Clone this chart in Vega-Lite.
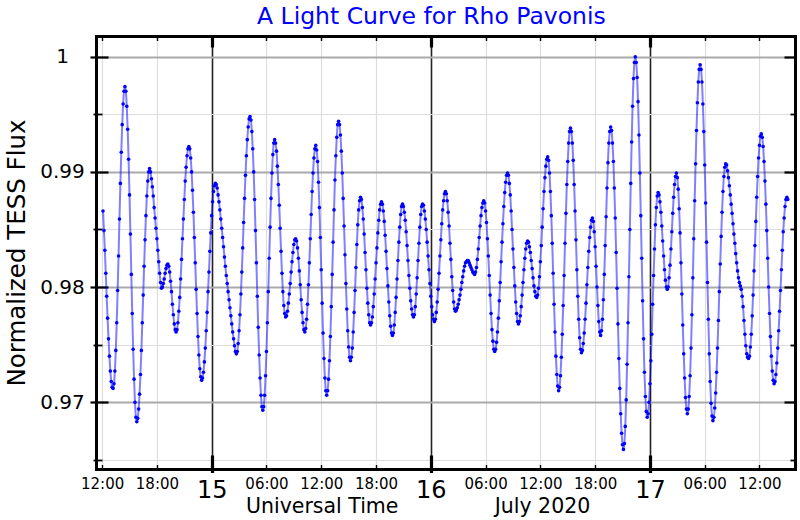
{
"$schema":"https://vega.github.io/schema/vega-lite/v6.json",
"width":699,"height":433,
"autosize":{"type":"none"},
"padding":{"left":96,"top":36,"right":5,"bottom":51},
"background":"white",
"config":{"view":{"stroke":null},"axis":{"labelFont":"DejaVu Sans","titleFont":"DejaVu Sans","labelColor":"#000","titleColor":"#000","tickColor":"#000","domainColor":"#000","titleFontWeight":"normal","domainCap":"square"}},
"title":{"text":"A Light Curve for Rho Pavonis","color":"#0000ff","font":"DejaVu Sans","fontSize":23.5,"fontWeight":"normal","anchor":"start","dx":161,"dy":23,"frame":"group","baseline":"alphabetic","offset":10},
"data":{"values":[
{"t":12.1,"f":0.9866},{"t":12.2,"f":0.9849},{"t":12.3,"f":0.9832},{"t":12.4,"f":0.9812},{"t":12.5,"f":0.9792},{"t":12.6,"f":0.9773},{"t":12.7,"f":0.9755},{"t":12.8,"f":0.9740},{"t":12.9,"f":0.9727},{"t":13.0,"f":0.9718},
{"t":13.1,"f":0.9713},{"t":13.2,"f":0.9712},{"t":13.3,"f":0.9716},{"t":13.4,"f":0.9727},{"t":13.5,"f":0.9745},{"t":13.6,"f":0.9769},{"t":13.7,"f":0.9797},{"t":13.8,"f":0.9827},{"t":13.9,"f":0.9859},{"t":14.0,"f":0.9890},
{"t":14.1,"f":0.9917},{"t":14.2,"f":0.9941},{"t":14.3,"f":0.9959},{"t":14.4,"f":0.9970},{"t":14.5,"f":0.9974},{"t":14.6,"f":0.9970},{"t":14.7,"f":0.9957},{"t":14.8,"f":0.9937},{"t":14.9,"f":0.9911},{"t":15.0,"f":0.9880},
{"t":15.1,"f":0.9846},{"t":15.2,"f":0.9811},{"t":15.3,"f":0.9777},{"t":15.4,"f":0.9746},{"t":15.5,"f":0.9720},{"t":15.6,"f":0.9700},{"t":15.7,"f":0.9687},{"t":15.8,"f":0.9683},{"t":15.9,"f":0.9686},{"t":16.0,"f":0.9694},
{"t":16.1,"f":0.9707},{"t":16.2,"f":0.9724},{"t":16.3,"f":0.9745},{"t":16.4,"f":0.9769},{"t":16.5,"f":0.9793},{"t":16.6,"f":0.9818},{"t":16.7,"f":0.9841},{"t":16.8,"f":0.9862},{"t":16.9,"f":0.9879},{"t":17.0,"f":0.9892},
{"t":17.1,"f":0.9900},{"t":17.2,"f":0.9903},{"t":17.3,"f":0.9900},{"t":17.4,"f":0.9894},{"t":17.5,"f":0.9887},{"t":17.6,"f":0.9879},{"t":17.7,"f":0.9869},{"t":17.8,"f":0.9860},{"t":17.9,"f":0.9851},{"t":18.0,"f":0.9842},
{"t":18.1,"f":0.9832},{"t":18.2,"f":0.9822},{"t":18.3,"f":0.9812},{"t":18.4,"f":0.9804},{"t":18.5,"f":0.9799},{"t":18.6,"f":0.9800},{"t":18.7,"f":0.9803},{"t":18.8,"f":0.9807},{"t":18.9,"f":0.9812},{"t":19.0,"f":0.9816},
{"t":19.1,"f":0.9819},{"t":19.2,"f":0.9820},{"t":19.3,"f":0.9818},{"t":19.4,"f":0.9813},{"t":19.5,"f":0.9805},{"t":19.6,"f":0.9796},{"t":19.7,"f":0.9785},{"t":19.8,"f":0.9776},{"t":19.9,"f":0.9768},{"t":20.0,"f":0.9763},
{"t":20.1,"f":0.9761},{"t":20.2,"f":0.9763},{"t":20.3,"f":0.9769},{"t":20.4,"f":0.9779},{"t":20.5,"f":0.9791},{"t":20.6,"f":0.9807},{"t":20.7,"f":0.9824},{"t":20.8,"f":0.9842},{"t":20.9,"f":0.9859},{"t":21.0,"f":0.9876},
{"t":21.1,"f":0.9892},{"t":21.2,"f":0.9904},{"t":21.3,"f":0.9914},{"t":21.4,"f":0.9920},{"t":21.5,"f":0.9922},{"t":21.6,"f":0.9920},{"t":21.7,"f":0.9912},{"t":21.8,"f":0.9900},{"t":21.9,"f":0.9884},{"t":22.0,"f":0.9865},
{"t":22.1,"f":0.9843},{"t":22.2,"f":0.9821},{"t":22.3,"f":0.9798},{"t":22.4,"f":0.9777},{"t":22.5,"f":0.9757},{"t":22.6,"f":0.9741},{"t":22.7,"f":0.9729},{"t":22.8,"f":0.9722},{"t":22.9,"f":0.9719},{"t":23.0,"f":0.9721},
{"t":23.1,"f":0.9726},{"t":23.2,"f":0.9735},{"t":23.3,"f":0.9747},{"t":23.4,"f":0.9762},{"t":23.5,"f":0.9778},{"t":23.6,"f":0.9796},{"t":23.7,"f":0.9813},{"t":23.8,"f":0.9831},{"t":23.9,"f":0.9847},{"t":24.0,"f":0.9862},
{"t":24.1,"f":0.9874},{"t":24.2,"f":0.9883},{"t":24.3,"f":0.9888},{"t":24.4,"f":0.9890},{"t":24.5,"f":0.9889},{"t":24.6,"f":0.9886},{"t":24.7,"f":0.9880},{"t":24.8,"f":0.9874},{"t":24.9,"f":0.9867},{"t":25.0,"f":0.9859},
{"t":25.1,"f":0.9851},{"t":25.2,"f":0.9843},{"t":25.3,"f":0.9835},{"t":25.4,"f":0.9826},{"t":25.5,"f":0.9818},{"t":25.6,"f":0.9810},{"t":25.7,"f":0.9803},{"t":25.8,"f":0.9796},{"t":25.9,"f":0.9789},{"t":26.0,"f":0.9782},
{"t":26.1,"f":0.9775},{"t":26.2,"f":0.9768},{"t":26.3,"f":0.9761},{"t":26.4,"f":0.9755},{"t":26.5,"f":0.9749},{"t":26.6,"f":0.9744},{"t":26.7,"f":0.9742},{"t":26.8,"f":0.9744},{"t":26.9,"f":0.9751},{"t":27.0,"f":0.9762},
{"t":27.1,"f":0.9776},{"t":27.2,"f":0.9794},{"t":27.3,"f":0.9813},{"t":27.4,"f":0.9834},{"t":27.5,"f":0.9856},{"t":27.6,"f":0.9877},{"t":27.7,"f":0.9897},{"t":27.8,"f":0.9914},{"t":27.9,"f":0.9928},{"t":28.0,"f":0.9939},
{"t":28.1,"f":0.9946},{"t":28.2,"f":0.9948},{"t":28.3,"f":0.9945},{"t":28.4,"f":0.9935},{"t":28.5,"f":0.9920},{"t":28.6,"f":0.9900},{"t":28.7,"f":0.9876},{"t":28.8,"f":0.9849},{"t":28.9,"f":0.9821},{"t":29.0,"f":0.9792},
{"t":29.1,"f":0.9765},{"t":29.2,"f":0.9741},{"t":29.3,"f":0.9721},{"t":29.4,"f":0.9706},{"t":29.5,"f":0.9696},{"t":29.6,"f":0.9693},{"t":29.7,"f":0.9696},{"t":29.8,"f":0.9706},{"t":29.9,"f":0.9723},{"t":30.0,"f":0.9744},
{"t":30.1,"f":0.9769},{"t":30.2,"f":0.9796},{"t":30.3,"f":0.9825},{"t":30.4,"f":0.9852},{"t":30.5,"f":0.9877},{"t":30.6,"f":0.9899},{"t":30.7,"f":0.9915},{"t":30.8,"f":0.9925},{"t":30.9,"f":0.9928},{"t":31.0,"f":0.9925},
{"t":31.1,"f":0.9918},{"t":31.2,"f":0.9905},{"t":31.3,"f":0.9889},{"t":31.4,"f":0.9871},{"t":31.5,"f":0.9851},{"t":31.6,"f":0.9831},{"t":31.7,"f":0.9812},{"t":31.8,"f":0.9796},{"t":31.9,"f":0.9784},{"t":32.0,"f":0.9777},
{"t":32.1,"f":0.9774},{"t":32.2,"f":0.9775},{"t":32.3,"f":0.9779},{"t":32.4,"f":0.9786},{"t":32.5,"f":0.9794},{"t":32.6,"f":0.9803},{"t":32.7,"f":0.9813},{"t":32.8,"f":0.9822},{"t":32.9,"f":0.9830},{"t":33.0,"f":0.9837},
{"t":33.1,"f":0.9841},{"t":33.2,"f":0.9842},{"t":33.3,"f":0.9840},{"t":33.4,"f":0.9834},{"t":33.5,"f":0.9825},{"t":33.6,"f":0.9814},{"t":33.7,"f":0.9802},{"t":33.8,"f":0.9789},{"t":33.9,"f":0.9778},{"t":34.0,"f":0.9769},
{"t":34.1,"f":0.9763},{"t":34.2,"f":0.9761},{"t":34.3,"f":0.9764},{"t":34.4,"f":0.9772},{"t":34.5,"f":0.9785},{"t":34.6,"f":0.9802},{"t":34.7,"f":0.9821},{"t":34.8,"f":0.9842},{"t":34.9,"f":0.9863},{"t":35.0,"f":0.9883},
{"t":35.1,"f":0.9899},{"t":35.2,"f":0.9912},{"t":35.3,"f":0.9920},{"t":35.4,"f":0.9923},{"t":35.5,"f":0.9919},{"t":35.6,"f":0.9909},{"t":35.7,"f":0.9891},{"t":35.8,"f":0.9869},{"t":35.9,"f":0.9843},{"t":36.0,"f":0.9815},
{"t":36.1,"f":0.9786},{"t":36.2,"f":0.9760},{"t":36.3,"f":0.9738},{"t":36.4,"f":0.9721},{"t":36.5,"f":0.9710},{"t":36.6,"f":0.9706},{"t":36.7,"f":0.9710},{"t":36.8,"f":0.9720},{"t":36.9,"f":0.9736},{"t":37.0,"f":0.9757},
{"t":37.1,"f":0.9783},{"t":37.2,"f":0.9811},{"t":37.3,"f":0.9839},{"t":37.4,"f":0.9867},{"t":37.5,"f":0.9893},{"t":37.6,"f":0.9914},{"t":37.7,"f":0.9930},{"t":37.8,"f":0.9941},{"t":37.9,"f":0.9944},{"t":38.0,"f":0.9941},
{"t":38.1,"f":0.9932},{"t":38.2,"f":0.9918},{"t":38.3,"f":0.9899},{"t":38.4,"f":0.9877},{"t":38.5,"f":0.9853},{"t":38.6,"f":0.9828},{"t":38.7,"f":0.9803},{"t":38.8,"f":0.9781},{"t":38.9,"f":0.9762},{"t":39.0,"f":0.9748},
{"t":39.1,"f":0.9739},{"t":39.2,"f":0.9736},{"t":39.3,"f":0.9739},{"t":39.4,"f":0.9747},{"t":39.5,"f":0.9761},{"t":39.6,"f":0.9778},{"t":39.7,"f":0.9797},{"t":39.8,"f":0.9817},{"t":39.9,"f":0.9837},{"t":40.0,"f":0.9854},
{"t":40.1,"f":0.9867},{"t":40.2,"f":0.9875},{"t":40.3,"f":0.9878},{"t":40.4,"f":0.9876},{"t":40.5,"f":0.9869},{"t":40.6,"f":0.9859},{"t":40.7,"f":0.9846},{"t":40.8,"f":0.9830},{"t":40.9,"f":0.9815},{"t":41.0,"f":0.9799},
{"t":41.1,"f":0.9786},{"t":41.2,"f":0.9776},{"t":41.3,"f":0.9769},{"t":41.4,"f":0.9767},{"t":41.5,"f":0.9769},{"t":41.6,"f":0.9774},{"t":41.7,"f":0.9783},{"t":41.8,"f":0.9794},{"t":41.9,"f":0.9807},{"t":42.0,"f":0.9821},
{"t":42.1,"f":0.9834},{"t":42.2,"f":0.9847},{"t":42.3,"f":0.9858},{"t":42.4,"f":0.9867},{"t":42.5,"f":0.9872},{"t":42.6,"f":0.9874},{"t":42.7,"f":0.9872},{"t":42.8,"f":0.9866},{"t":42.9,"f":0.9857},{"t":43.0,"f":0.9845},
{"t":43.1,"f":0.9831},{"t":43.2,"f":0.9816},{"t":43.3,"f":0.9801},{"t":43.4,"f":0.9787},{"t":43.5,"f":0.9775},{"t":43.6,"f":0.9766},{"t":43.7,"f":0.9760},{"t":43.8,"f":0.9758},{"t":43.9,"f":0.9760},{"t":44.0,"f":0.9767},
{"t":44.1,"f":0.9778},{"t":44.2,"f":0.9791},{"t":44.3,"f":0.9807},{"t":44.4,"f":0.9823},{"t":44.5,"f":0.9839},{"t":44.6,"f":0.9852},{"t":44.7,"f":0.9863},{"t":44.8,"f":0.9870},{"t":44.9,"f":0.9872},{"t":45.0,"f":0.9870},
{"t":45.1,"f":0.9865},{"t":45.2,"f":0.9858},{"t":45.3,"f":0.9848},{"t":45.4,"f":0.9836},{"t":45.5,"f":0.9823},{"t":45.6,"f":0.9810},{"t":45.7,"f":0.9799},{"t":45.8,"f":0.9788},{"t":45.9,"f":0.9781},{"t":46.0,"f":0.9776},
{"t":46.1,"f":0.9774},{"t":46.2,"f":0.9776},{"t":46.3,"f":0.9783},{"t":46.4,"f":0.9794},{"t":46.5,"f":0.9808},{"t":46.6,"f":0.9823},{"t":46.7,"f":0.9838},{"t":46.8,"f":0.9852},{"t":46.9,"f":0.9863},{"t":47.0,"f":0.9870},
{"t":47.1,"f":0.9872},{"t":47.2,"f":0.9871},{"t":47.3,"f":0.9866},{"t":47.4,"f":0.9859},{"t":47.5,"f":0.9850},{"t":47.6,"f":0.9839},{"t":47.7,"f":0.9827},{"t":47.8,"f":0.9815},{"t":47.9,"f":0.9803},{"t":48.0,"f":0.9792},
{"t":48.1,"f":0.9783},{"t":48.2,"f":0.9776},{"t":48.3,"f":0.9772},{"t":48.4,"f":0.9770},{"t":48.5,"f":0.9772},{"t":48.6,"f":0.9778},{"t":48.7,"f":0.9787},{"t":48.8,"f":0.9798},{"t":48.9,"f":0.9812},{"t":49.0,"f":0.9827},
{"t":49.1,"f":0.9841},{"t":49.2,"f":0.9855},{"t":49.3,"f":0.9867},{"t":49.4,"f":0.9875},{"t":49.5,"f":0.9881},{"t":49.6,"f":0.9883},{"t":49.7,"f":0.9881},{"t":49.8,"f":0.9875},{"t":49.9,"f":0.9865},{"t":50.0,"f":0.9853},
{"t":50.1,"f":0.9838},{"t":50.2,"f":0.9824},{"t":50.3,"f":0.9809},{"t":50.4,"f":0.9797},{"t":50.5,"f":0.9787},{"t":50.6,"f":0.9781},{"t":50.7,"f":0.9779},{"t":50.8,"f":0.9780},{"t":50.9,"f":0.9782},{"t":51.0,"f":0.9785},
{"t":51.1,"f":0.9789},{"t":51.2,"f":0.9793},{"t":51.3,"f":0.9798},{"t":51.4,"f":0.9804},{"t":51.5,"f":0.9809},{"t":51.6,"f":0.9814},{"t":51.7,"f":0.9818},{"t":51.8,"f":0.9821},{"t":51.9,"f":0.9822},{"t":52.0,"f":0.9823},
{"t":52.1,"f":0.9823},{"t":52.2,"f":0.9821},{"t":52.3,"f":0.9819},{"t":52.4,"f":0.9817},{"t":52.5,"f":0.9815},{"t":52.6,"f":0.9813},{"t":52.7,"f":0.9812},{"t":52.8,"f":0.9811},{"t":52.9,"f":0.9813},{"t":53.0,"f":0.9817},
{"t":53.1,"f":0.9824},{"t":53.2,"f":0.9833},{"t":53.3,"f":0.9843},{"t":53.4,"f":0.9853},{"t":53.5,"f":0.9862},{"t":53.6,"f":0.9869},{"t":53.7,"f":0.9873},{"t":53.8,"f":0.9875},{"t":53.9,"f":0.9873},{"t":54.0,"f":0.9866},
{"t":54.1,"f":0.9856},{"t":54.2,"f":0.9842},{"t":54.3,"f":0.9827},{"t":54.4,"f":0.9810},{"t":54.5,"f":0.9793},{"t":54.6,"f":0.9777},{"t":54.7,"f":0.9763},{"t":54.8,"f":0.9753},{"t":54.9,"f":0.9746},{"t":55.0,"f":0.9744},
{"t":55.1,"f":0.9746},{"t":55.2,"f":0.9752},{"t":55.3,"f":0.9761},{"t":55.4,"f":0.9773},{"t":55.5,"f":0.9788},{"t":55.6,"f":0.9804},{"t":55.7,"f":0.9822},{"t":55.8,"f":0.9839},{"t":55.9,"f":0.9855},{"t":56.0,"f":0.9870},
{"t":56.1,"f":0.9882},{"t":56.2,"f":0.9891},{"t":56.3,"f":0.9897},{"t":56.4,"f":0.9899},{"t":56.5,"f":0.9897},{"t":56.6,"f":0.9890},{"t":56.7,"f":0.9880},{"t":56.8,"f":0.9866},{"t":56.9,"f":0.9850},{"t":57.0,"f":0.9833},
{"t":57.1,"f":0.9817},{"t":57.2,"f":0.9801},{"t":57.3,"f":0.9787},{"t":57.4,"f":0.9777},{"t":57.5,"f":0.9770},{"t":57.6,"f":0.9768},{"t":57.7,"f":0.9770},{"t":57.8,"f":0.9775},{"t":57.9,"f":0.9783},{"t":58.0,"f":0.9793},
{"t":58.1,"f":0.9804},{"t":58.2,"f":0.9815},{"t":58.3,"f":0.9825},{"t":58.4,"f":0.9833},{"t":58.5,"f":0.9838},{"t":58.6,"f":0.9840},{"t":58.7,"f":0.9839},{"t":58.8,"f":0.9835},{"t":58.9,"f":0.9830},{"t":59.0,"f":0.9823},
{"t":59.1,"f":0.9816},{"t":59.2,"f":0.9808},{"t":59.3,"f":0.9801},{"t":59.4,"f":0.9796},{"t":59.5,"f":0.9792},{"t":59.6,"f":0.9791},{"t":59.7,"f":0.9793},{"t":59.8,"f":0.9799},{"t":59.9,"f":0.9809},{"t":60.0,"f":0.9822},
{"t":60.1,"f":0.9836},{"t":60.2,"f":0.9852},{"t":60.3,"f":0.9868},{"t":60.4,"f":0.9883},{"t":60.5,"f":0.9895},{"t":60.6,"f":0.9905},{"t":60.7,"f":0.9911},{"t":60.8,"f":0.9913},{"t":60.9,"f":0.9910},{"t":61.0,"f":0.9899},
{"t":61.1,"f":0.9883},{"t":61.2,"f":0.9862},{"t":61.3,"f":0.9838},{"t":61.4,"f":0.9812},{"t":61.5,"f":0.9785},{"t":61.6,"f":0.9761},{"t":61.7,"f":0.9740},{"t":61.8,"f":0.9724},{"t":61.9,"f":0.9714},{"t":62.0,"f":0.9710},
{"t":62.1,"f":0.9713},{"t":62.2,"f":0.9723},{"t":62.3,"f":0.9739},{"t":62.4,"f":0.9759},{"t":62.5,"f":0.9784},{"t":62.6,"f":0.9810},{"t":62.7,"f":0.9838},{"t":62.8,"f":0.9864},{"t":62.9,"f":0.9889},{"t":63.0,"f":0.9909},
{"t":63.1,"f":0.9925},{"t":63.2,"f":0.9935},{"t":63.3,"f":0.9938},{"t":63.4,"f":0.9935},{"t":63.5,"f":0.9925},{"t":63.6,"f":0.9910},{"t":63.7,"f":0.9889},{"t":63.8,"f":0.9866},{"t":63.9,"f":0.9841},{"t":64.0,"f":0.9815},
{"t":64.1,"f":0.9792},{"t":64.2,"f":0.9772},{"t":64.3,"f":0.9756},{"t":64.4,"f":0.9746},{"t":64.5,"f":0.9743},{"t":64.6,"f":0.9745},{"t":64.7,"f":0.9751},{"t":64.8,"f":0.9760},{"t":64.9,"f":0.9772},{"t":65.0,"f":0.9786},
{"t":65.1,"f":0.9802},{"t":65.2,"f":0.9817},{"t":65.3,"f":0.9831},{"t":65.4,"f":0.9843},{"t":65.5,"f":0.9852},{"t":65.6,"f":0.9858},{"t":65.7,"f":0.9860},{"t":65.8,"f":0.9857},{"t":65.9,"f":0.9848},{"t":66.0,"f":0.9835},
{"t":66.1,"f":0.9818},{"t":66.2,"f":0.9800},{"t":66.3,"f":0.9784},{"t":66.4,"f":0.9770},{"t":66.5,"f":0.9761},{"t":66.6,"f":0.9758},{"t":66.7,"f":0.9762},{"t":66.8,"f":0.9772},{"t":66.9,"f":0.9789},{"t":67.0,"f":0.9811},
{"t":67.1,"f":0.9836},{"t":67.2,"f":0.9861},{"t":67.3,"f":0.9886},{"t":67.4,"f":0.9908},{"t":67.5,"f":0.9925},{"t":67.6,"f":0.9935},{"t":67.7,"f":0.9939},{"t":67.8,"f":0.9936},{"t":67.9,"f":0.9925},{"t":68.0,"f":0.9909},
{"t":68.1,"f":0.9886},{"t":68.2,"f":0.9860},{"t":68.3,"f":0.9830},{"t":68.4,"f":0.9799},{"t":68.5,"f":0.9768},{"t":68.6,"f":0.9738},{"t":68.7,"f":0.9712},{"t":68.8,"f":0.9690},{"t":68.9,"f":0.9673},{"t":69.0,"f":0.9663},
{"t":69.1,"f":0.9659},{"t":69.2,"f":0.9664},{"t":69.3,"f":0.9679},{"t":69.4,"f":0.9702},{"t":69.5,"f":0.9733},{"t":69.6,"f":0.9769},{"t":69.7,"f":0.9809},{"t":69.8,"f":0.9850},{"t":69.9,"f":0.9890},{"t":70.0,"f":0.9926},
{"t":70.1,"f":0.9957},{"t":70.2,"f":0.9981},{"t":70.3,"f":0.9995},{"t":70.4,"f":1.0000},{"t":70.5,"f":0.9995},{"t":70.6,"f":0.9982},{"t":70.7,"f":0.9961},{"t":70.8,"f":0.9932},{"t":70.9,"f":0.9899},{"t":71.0,"f":0.9862},
{"t":71.1,"f":0.9825},{"t":71.2,"f":0.9788},{"t":71.3,"f":0.9755},{"t":71.4,"f":0.9726},{"t":71.5,"f":0.9705},{"t":71.6,"f":0.9692},{"t":71.7,"f":0.9687},{"t":71.8,"f":0.9690},{"t":71.9,"f":0.9700},{"t":72.0,"f":0.9716},
{"t":72.1,"f":0.9736},{"t":72.2,"f":0.9759},{"t":72.3,"f":0.9785},{"t":72.4,"f":0.9810},{"t":72.5,"f":0.9833},{"t":72.6,"f":0.9854},{"t":72.7,"f":0.9869},{"t":72.8,"f":0.9879},{"t":72.9,"f":0.9882},{"t":73.0,"f":0.9880},
{"t":73.1,"f":0.9874},{"t":73.2,"f":0.9865},{"t":73.3,"f":0.9853},{"t":73.4,"f":0.9840},{"t":73.5,"f":0.9827},{"t":73.6,"f":0.9815},{"t":73.7,"f":0.9806},{"t":73.8,"f":0.9800},{"t":73.9,"f":0.9798},{"t":74.0,"f":0.9800},
{"t":74.1,"f":0.9808},{"t":74.2,"f":0.9819},{"t":74.3,"f":0.9833},{"t":74.4,"f":0.9848},{"t":74.5,"f":0.9864},{"t":74.6,"f":0.9878},{"t":74.7,"f":0.9889},{"t":74.8,"f":0.9896},{"t":74.9,"f":0.9899},{"t":75.0,"f":0.9895},
{"t":75.1,"f":0.9885},{"t":75.2,"f":0.9868},{"t":75.3,"f":0.9847},{"t":75.4,"f":0.9821},{"t":75.5,"f":0.9794},{"t":75.6,"f":0.9767},{"t":75.7,"f":0.9742},{"t":75.8,"f":0.9721},{"t":75.9,"f":0.9704},{"t":76.0,"f":0.9694},
{"t":76.1,"f":0.9690},{"t":76.2,"f":0.9694},{"t":76.3,"f":0.9705},{"t":76.4,"f":0.9723},{"t":76.5,"f":0.9747},{"t":76.6,"f":0.9776},{"t":76.7,"f":0.9808},{"t":76.8,"f":0.9842},{"t":76.9,"f":0.9875},{"t":77.0,"f":0.9907},
{"t":77.1,"f":0.9936},{"t":77.2,"f":0.9960},{"t":77.3,"f":0.9978},{"t":77.4,"f":0.9989},{"t":77.5,"f":0.9993},{"t":77.6,"f":0.9989},{"t":77.7,"f":0.9978},{"t":77.8,"f":0.9959},{"t":77.9,"f":0.9935},{"t":78.0,"f":0.9906},
{"t":78.1,"f":0.9873},{"t":78.2,"f":0.9839},{"t":78.3,"f":0.9804},{"t":78.4,"f":0.9772},{"t":78.5,"f":0.9742},{"t":78.6,"f":0.9718},{"t":78.7,"f":0.9699},{"t":78.8,"f":0.9688},{"t":78.9,"f":0.9684},{"t":79.0,"f":0.9687},
{"t":79.1,"f":0.9695},{"t":79.2,"f":0.9708},{"t":79.3,"f":0.9726},{"t":79.4,"f":0.9747},{"t":79.5,"f":0.9771},{"t":79.6,"f":0.9796},{"t":79.7,"f":0.9820},{"t":79.8,"f":0.9844},{"t":79.9,"f":0.9865},{"t":80.0,"f":0.9883},
{"t":80.1,"f":0.9896},{"t":80.2,"f":0.9904},{"t":80.3,"f":0.9907},{"t":80.4,"f":0.9906},{"t":80.5,"f":0.9901},{"t":80.6,"f":0.9895},{"t":80.7,"f":0.9888},{"t":80.8,"f":0.9880},{"t":80.9,"f":0.9872},{"t":81.0,"f":0.9864},
{"t":81.1,"f":0.9855},{"t":81.2,"f":0.9846},{"t":81.3,"f":0.9838},{"t":81.4,"f":0.9829},{"t":81.5,"f":0.9821},{"t":81.6,"f":0.9814},{"t":81.7,"f":0.9808},{"t":81.8,"f":0.9804},{"t":81.9,"f":0.9801},{"t":82.0,"f":0.9798},
{"t":82.1,"f":0.9792},{"t":82.2,"f":0.9783},{"t":82.3,"f":0.9771},{"t":82.4,"f":0.9759},{"t":82.5,"f":0.9749},{"t":82.6,"f":0.9742},{"t":82.7,"f":0.9739},{"t":82.8,"f":0.9738},{"t":82.9,"f":0.9740},{"t":83.0,"f":0.9748},
{"t":83.1,"f":0.9759},{"t":83.2,"f":0.9775},{"t":83.3,"f":0.9793},{"t":83.4,"f":0.9814},{"t":83.5,"f":0.9836},{"t":83.6,"f":0.9857},{"t":83.7,"f":0.9878},{"t":83.8,"f":0.9896},{"t":83.9,"f":0.9912},{"t":84.0,"f":0.9923},
{"t":84.1,"f":0.9931},{"t":84.2,"f":0.9933},{"t":84.3,"f":0.9930},{"t":84.4,"f":0.9922},{"t":84.5,"f":0.9909},{"t":84.6,"f":0.9892},{"t":84.7,"f":0.9872},{"t":84.8,"f":0.9849},{"t":84.9,"f":0.9825},{"t":85.0,"f":0.9800},
{"t":85.1,"f":0.9777},{"t":85.2,"f":0.9757},{"t":85.3,"f":0.9740},{"t":85.4,"f":0.9727},{"t":85.5,"f":0.9719},{"t":85.6,"f":0.9716},{"t":85.7,"f":0.9718},{"t":85.8,"f":0.9724},{"t":85.9,"f":0.9734},{"t":86.0,"f":0.9747},
{"t":86.1,"f":0.9762},{"t":86.2,"f":0.9779},{"t":86.3,"f":0.9797},{"t":86.4,"f":0.9815},{"t":86.5,"f":0.9832},{"t":86.6,"f":0.9848},{"t":86.7,"f":0.9860},{"t":86.8,"f":0.9870},{"t":86.9,"f":0.9876},{"t":87.0,"f":0.9878},
{"t":87.1,"f":0.9876}
]},
"resolve":{"axis":{"x":"independent","y":"independent"}},
"layer":[
{
"encoding":{
"x":{"field":"t","type":"quantitative","scale":{"domain":[11.33,87.89],"nice":false,"zero":false},
"axis":{"orient":"bottom","values":[12,18,24,30,36,42,48,54,60,66,72,78,84],"ticks":false,"tickSize":0,"domain":false,"grid":true,
"gridColor":{"condition":{"test":"datum.value % 24 === 0","value":"#222222"},"value":"#dddddd"},
"gridWidth":{"condition":{"test":"datum.value % 24 === 0","value":1.6},"value":1.2},
"labelExpr":"datum.value % 24 === 0 ? '' : (datum.value % 24 === 12 ? '12:00' : (datum.value % 24 === 18 ? '18:00' : '06:00'))",
"labelFontSize":15,"labelBaseline":"top","labelPadding":7.4,"labelFlush":false,"labelOverlap":false,"labelAngle":0,
"title":"Universal Time","titleFontSize":20.5,"titleX":225.7,"titleY":43.3,"titleBaseline":"alphabetic","titleAlign":"center"}},
"y":{"field":"f","type":"quantitative","scale":{"domain":[0.9642,1.0018],"nice":false,"zero":false},
"axis":{"orient":"left","values":[0.965,0.97,0.975,0.98,0.985,0.99,0.995,1],"ticks":false,"tickSize":0,"domain":false,"grid":true,
"gridColor":{"condition":{"test":"abs(datum.value*100 - round(datum.value*100)) < 0.01","value":"#aaaaaa"},"value":"#dddddd"},
"gridWidth":{"condition":{"test":"abs(datum.value*100 - round(datum.value*100)) < 0.01","value":1.8},"value":1.2},
"labelExpr":"datum.value === 1 ? '1' : (abs(datum.value*100 - round(datum.value*100)) < 0.01 ? format(datum.value, '.2f') : '')",
"labelFontSize":20,"labelAlign":"center","labelBaseline":"middle","labelPadding":34,"labelOverlap":false,"labelFlush":false,
"title":"Normalized TESS Flux","titleFontSize":24.5,"titleX":-72,"titleY":216.5,"titleAngle":-90,"titleBaseline":"alphabetic","titleAlign":"center"}}
},
"layer":[
{"mark":{"type":"line","color":"#0000ff","opacity":0.5,"strokeWidth":2,"interpolate":"monotone"}},
{"mark":{"type":"circle","color":"#0000ff","size":13,"opacity":1}}
]
},
{
"mark":{"type":"point","opacity":0},
"encoding":{
"x":{"field":"t","type":"quantitative","scale":{"domain":[11.33,87.89],"nice":false,"zero":false},
"axis":{"orient":"bottom","values":[24,48,72],"ticks":false,"tickSize":0,"domain":false,"grid":false,
"labelExpr":"'' + (14 + datum.value/24)","labelFontSize":24,"labelBaseline":"top","labelPadding":9.7,"labelFlush":false,"labelOverlap":false,"labelAngle":0,
"title":"July 2020","titleFontSize":20.5,"titleX":446,"titleY":43.3,"titleBaseline":"alphabetic","titleAlign":"center"}},
"y":{"field":"f","type":"quantitative","scale":{"domain":[0.9642,1.0018],"nice":false,"zero":false},
"axis":{"orient":"left","values":[0.965,0.97,0.975,0.98,0.985,0.99,0.995,1],"ticks":true,
"tickSize":{"condition":{"test":"abs(datum.value*100 - round(datum.value*100)) < 0.01","value":6},"value":3},
"tickWidth":{"condition":{"test":"abs(datum.value*100 - round(datum.value*100)) < 0.01","value":2.2},"value":1.8},
"domain":true,"domainWidth":3,"labels":false,"grid":false,"title":null}}
}
},
{
"mark":{"type":"point","opacity":0},
"encoding":{
"x":{"field":"t","type":"quantitative","scale":{"domain":[11.33,87.89],"nice":false,"zero":false},
"axis":{"orient":"bottom","values":[12,18,24,30,36,42,48,54,60,66,72,78,84],"ticks":true,
"tickSize":{"condition":{"test":"datum.value % 24 === 0","value":-14},"value":-4.5},
"tickWidth":{"condition":{"test":"datum.value % 24 === 0","value":3.2},"value":1.4},
"domain":true,"domainWidth":3,"labels":false,"grid":false,"title":null}},
"y":{"field":"f","type":"quantitative","scale":{"domain":[0.9642,1.0018],"nice":false,"zero":false},
"axis":{"orient":"left","values":[0.965,0.97,0.975,0.98,0.985,0.99,0.995,1],"ticks":true,
"tickSize":{"condition":{"test":"abs(datum.value*100 - round(datum.value*100)) < 0.01","value":-12},"value":-6},
"tickWidth":{"condition":{"test":"abs(datum.value*100 - round(datum.value*100)) < 0.01","value":2.2},"value":1.8},
"domain":false,"labels":false,"grid":false,"title":null}}
}
},
{
"mark":{"type":"point","opacity":0},
"encoding":{
"x":{"field":"t","type":"quantitative","scale":{"domain":[11.33,87.89],"nice":false,"zero":false},
"axis":{"orient":"bottom","values":[24,48,72],"ticks":true,"tickSize":3.5,"tickWidth":3.2,"domain":false,"labels":false,"grid":false,"title":null}},
"y":{"field":"f","type":"quantitative","scale":{"domain":[0.9642,1.0018],"nice":false,"zero":false},
"axis":{"orient":"right","values":[0.965,0.97,0.975,0.98,0.985,0.99,0.995,1],"ticks":true,
"tickSize":{"condition":{"test":"abs(datum.value*100 - round(datum.value*100)) < 0.01","value":-11},"value":-5},
"tickWidth":{"condition":{"test":"abs(datum.value*100 - round(datum.value*100)) < 0.01","value":2.2},"value":1.8},
"domain":true,"domainWidth":3,"labels":false,"grid":false,"title":null}}
}
},
{
"mark":{"type":"point","opacity":0},
"encoding":{
"x":{"field":"t","type":"quantitative","scale":{"domain":[11.33,87.89],"nice":false,"zero":false},
"axis":{"orient":"top","values":[12,18,24,30,36,42,48,54,60,66,72,78,84],"ticks":true,
"tickSize":{"condition":{"test":"datum.value % 24 === 0","value":-11},"value":-4.5},
"tickWidth":{"condition":{"test":"datum.value % 24 === 0","value":3.2},"value":1.4},
"domain":true,"domainWidth":3,"labels":false,"grid":false,"title":null}},
"y":{"field":"f","type":"quantitative","scale":{"domain":[0.9642,1.0018],"nice":false,"zero":false},"axis":null}
}
}
]
}
